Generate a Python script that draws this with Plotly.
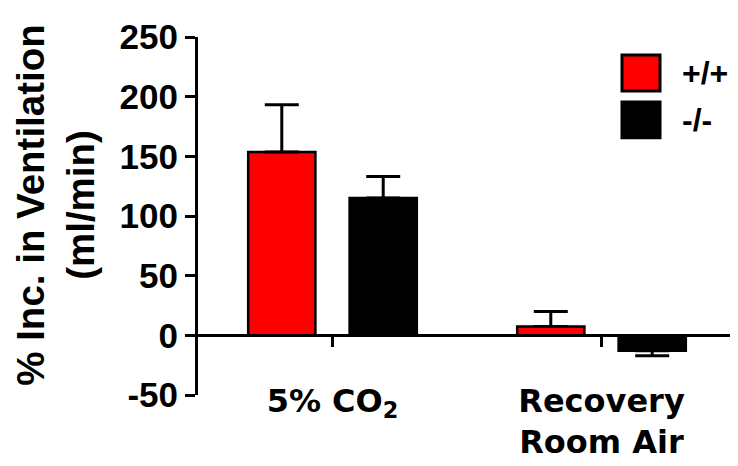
import plotly.graph_objects as go

categories = ["5% CO<sub>2</sub>", "Recovery<br>Room Air"]
wt_values = [153.6, 7.4]
wt_err_up = [39.6, 12.5]
wt_err_down = [0, 0]
ko_values = [115.0, -13.0]
ko_err_up = [18.1, 0]
ko_err_down = [0, 4.2]
series_names = ["+/+", "-/-"]
series_colors = ["#ff0000", "#000000"]
y_ticks = [-50, 0, 50, 100, 150, 200, 250]
y_tick_text = ["-50", "0", "50", "100", "150", "200", "250"]

# page body adds an 8px offset; size figure so it fills the window exactly
OFF = 8
W, H = 738 - OFF, 466 - OFF
L, R, T, B = 198 - OFF, 2, 37 - OFF, 70.5
pw, ph = W - L - R, H - T - B

def px(x):
    return (x - OFF - L) / pw

def py(y):
    return (H - B - (y - OFF)) / ph

fig = go.Figure()
for name, vals, up, dn, col in [
    (series_names[0], wt_values, wt_err_up, wt_err_down, series_colors[0]),
    (series_names[1], ko_values, ko_err_up, ko_err_down, series_colors[1]),
]:
    fig.add_trace(go.Bar(
        x=categories, y=vals, name=name,
        marker=dict(color=col, line=dict(color="black", width=2.5)),
        error_y=dict(type="data", symmetric=False, array=up, arrayminus=dn,
                     color="black", thickness=3, width=17),
        showlegend=False,
    ))

fig.update_layout(
    width=W, height=H,
    margin=dict(l=L, r=R, t=T, b=B, pad=0, autoexpand=False),
    paper_bgcolor="white", plot_bgcolor="white",
    barmode="group", bargap=0.246, bargroupgap=0.337,
    xaxis=dict(
        type="category", range=[-0.5, 1.5], automargin=False,
        anchor="free", position=50 / 300,
        showline=True, linecolor="black", linewidth=3,
        ticks="outside", ticklen=10, tickwidth=3, tickcolor="black",
        ticklabelstandoff=26,
        tickfont=dict(family="DejaVu Sans", size=32, color="black", weight="bold"),
        showgrid=False, zeroline=False,
    ),
    yaxis=dict(
        range=[-50, 250], tickvals=y_ticks, ticktext=y_tick_text, automargin=False,
        showline=True, linecolor="black", linewidth=3,
        ticks="outside", ticklen=10, tickwidth=3, tickcolor="black",
        tickfont=dict(family="Liberation Sans", size=35, color="black", weight="bold"),
        showgrid=False, zeroline=False,
    ),
)

fig.add_annotation(
    text="% Inc. in Ventilation<br>(ml/min)", textangle=-90,
    xref="paper", yref="paper", x=px(56), y=py(205),
    xanchor="center", yanchor="middle", showarrow=False,
    font=dict(family="Liberation Sans", size=38.5, color="black", weight="bold"),
)

# legend
leg_top = [55, 102]
for i, (name, col) in enumerate(zip(series_names, series_colors)):
    y0 = leg_top[i]
    fig.add_shape(type="rect", xref="paper", yref="paper",
                  x0=px(622), x1=px(660), y0=py(y0), y1=py(y0 + 36),
                  fillcolor=col, line=dict(color="black", width=3))
    fig.add_annotation(text=name, xref="paper", yref="paper",
                       x=px(680), y=py(y0 + 18), xanchor="left", yanchor="middle",
                       showarrow=False,
                       font=dict(family="Liberation Sans", size=32, color="black", weight="bold"))

fig.write_html("out.html")
